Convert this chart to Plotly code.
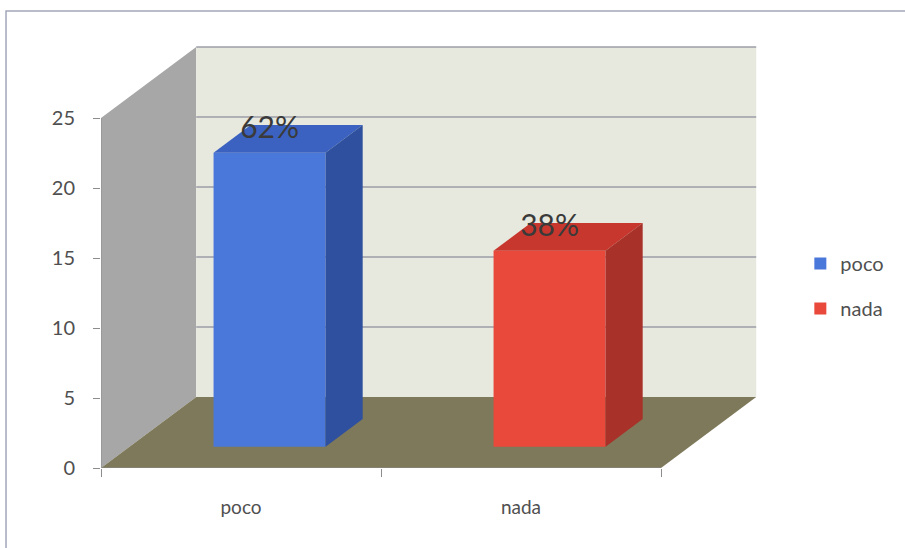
import plotly.graph_objects as go

# ---- data ----
categories = ["poco", "nada"]
values = [21, 14]
pct_labels = ["62%", "38%"]
y_ticks = [0, 5, 10, 15, 20, 25]

# ---- styles ----
front_colors = ["#4a78da", "#e9493a"]
top_colors = ["#3b62c0", "#c8372e"]
side_colors = ["#2f509e", "#a83129"]
FONT = "Lato"

# oblique 3D geometry (axis units)
DX, DY = 0.34, 5.07      # full depth offset of the walls
F0, F1 = 0.30, 0.69      # bar front/back depth fractions
BAR_W = 0.40
N = len(categories)
YTOP = max(y_ticks)

fig = go.Figure()
centers = [i + 0.5 for i in range(N)]

for i, (cat, v) in enumerate(zip(categories, values)):
    xc = centers[i]
    xl, xr = xc - BAR_W / 2, xc + BAR_W / 2
    # front face: real bar
    fig.add_trace(go.Bar(
        x=[xc + F0 * DX], y=[v], base=F0 * DY, width=BAR_W, name=cat,
        marker=dict(color=front_colors[i], line=dict(width=0)),
        legendgroup=cat, hoverinfo="skip"))
    # top face
    fig.add_trace(go.Scatter(
        x=[xl + F0 * DX, xr + F0 * DX, xr + F1 * DX, xl + F1 * DX, xl + F0 * DX],
        y=[v + F0 * DY, v + F0 * DY, v + F1 * DY, v + F1 * DY, v + F0 * DY],
        mode="lines", fill="toself", fillcolor=top_colors[i], line=dict(width=0),
        showlegend=False, hoverinfo="skip"))
    # right side face
    fig.add_trace(go.Scatter(
        x=[xr + F0 * DX, xr + F0 * DX, xr + F1 * DX, xr + F1 * DX, xr + F0 * DX],
        y=[F0 * DY, v + F0 * DY, v + F1 * DY, F1 * DY, F0 * DY],
        mode="lines", fill="toself", fillcolor=side_colors[i], line=dict(width=0),
        showlegend=False, hoverinfo="skip"))

# percentage labels
fig.add_trace(go.Scatter(
    x=[c + F0 * DX for c in centers], y=[v + F0 * DY + 0.55 for v in values],
    text=pct_labels, mode="text", textposition="top center",
    textfont=dict(family=FONT, size=30, color="#3a3a3a"),
    showlegend=False, hoverinfo="skip"))

shapes = []
# left side wall
shapes.append(dict(type="path", xref="x", yref="y", layer="below",
                   path=f"M0,0 L0,{YTOP} L{DX},{YTOP + DY} L{DX},{DY} Z",
                   fillcolor="#a7a7a7", line=dict(width=0)))
# back wall
shapes.append(dict(type="rect", xref="x", yref="y", layer="below",
                   x0=DX, x1=N + DX, y0=DY, y1=YTOP + DY,
                   fillcolor="#e7e8de", line=dict(width=0)))
# floor
shapes.append(dict(type="path", xref="x", yref="y", layer="below",
                   path=f"M0,0 L{N},0 L{N + DX},{DY} L{DX},{DY} Z",
                   fillcolor="#7e795a", line=dict(width=0)))
# back-wall gridlines
for t in y_ticks[1:]:
    shapes.append(dict(type="line", xref="x", yref="y", layer="below",
                       x0=DX, x1=N + DX, y0=t + DY, y1=t + DY,
                       line=dict(color="#9d9ea8", width=1.5)))
# front axis lines
shapes.append(dict(type="line", xref="x", yref="y", layer="above",
                   x0=0, x1=0, y0=0, y1=YTOP, line=dict(color="#8c8c8c", width=1)))
shapes.append(dict(type="line", xref="x", yref="y", layer="above",
                   x0=0, x1=N, y0=0, y1=0, line=dict(color="#8c8c8c", width=1)))
# outer chart frame
shapes.append(dict(type="rect", xref="paper", yref="paper", layer="above",
                   x0=-0.1437, x1=1.5, y0=-0.5, y1=1.083,
                   fillcolor="rgba(0,0,0,0)", line=dict(color="#a3a8ba", width=1.5)))

fig.update_layout(
    width=905, height=548,
    margin=dict(l=101, r=143, t=46, b=80, autoexpand=False),
    paper_bgcolor="white", plot_bgcolor="white",
    barmode="overlay",
    shapes=shapes,
    showlegend=True,
    legend=dict(x=1.058, xanchor="left", y=0.431, yanchor="middle",
                font=dict(family=FONT, size=20, color="#505050"),
                tracegroupgap=16, traceorder="grouped",
                bgcolor="rgba(0,0,0,0)"),
    xaxis=dict(range=[0, 661 / 280], tickvals=centers, ticktext=categories,
               ticks="", showgrid=False, zeroline=False, showline=False,
               tickfont=dict(family=FONT, size=19, color="#505050"),
               ticklabelstandoff=26,
               minor=dict(tickvals=list(range(N + 1)), ticks="outside",
                          ticklen=8, tickcolor="#8c8c8c", showgrid=False)),
    yaxis=dict(range=[0, 422 / 14], tickvals=y_ticks, ticks="outside",
               ticklen=7, tickcolor="#8c8c8c", showgrid=False, zeroline=False,
               showline=False, ticklabelstandoff=14,
               tickfont=dict(family=FONT, size=20, color="#505050")),
)

fig.write_html("out.html")
